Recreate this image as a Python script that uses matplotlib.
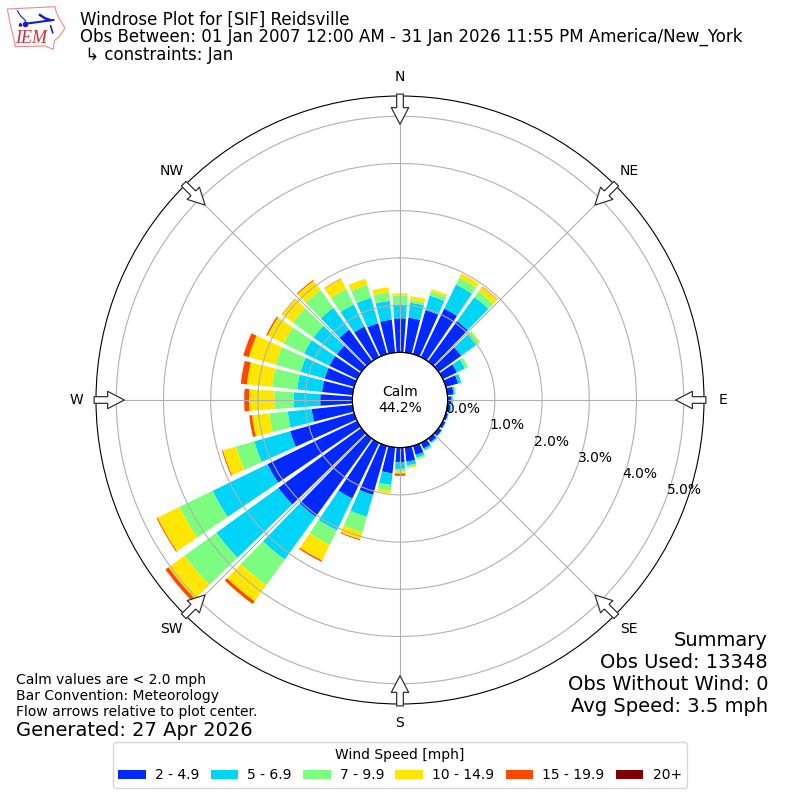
import numpy as np
import matplotlib
matplotlib.use("Agg")
import matplotlib.pyplot as plt
from matplotlib.patches import Polygon

directions = list(range(0, 360, 10))
speed_labels = ["2 - 4.9", "5 - 6.9", "7 - 9.9", "10 - 14.9", "15 - 19.9", "20+"]
colors = ["#0028ff", "#00d5f7", "#7cfd7f", "#ffe600", "#ff4700", "#7f0000"]

s_2_5 = [.72,.74,.97,1.14,1.05,.59,.33,.27,.13,.08,.07,.05,.06,.08,.09,.13,.20,.30,
         .31,.55,1.08,1.31,2.04,2.17,2.11,1.41,.87,.68,.65,.65,.65,.64,.83,.72,.68,.70]
s_5_7 = [.29,.32,.32,.57,.63,.39,.19,.07,.03,.03,.02,.01,.01,.01,.03,.04,.06,.08,
         .14,.25,.48,.75,1.12,1.62,1.29,.79,.51,.56,.53,.53,.60,.61,.57,.52,.56,.40]
s_7_10 = [.19,.06,.09,.16,.15,.09,.07,.01,.02,.01,.01,.01,.01,.01,.01,.02,.04,.04,
          .05,.12,.34,.34,.67,.83,.78,.40,.39,.41,.53,.55,.48,.54,.46,.36,.28,.18]
s_10_15 = [.05,.08,.05,.10,.12,.02,0,0,.01,0,0,0,0,0,0,.01,.01,.02,
           .05,.06,.16,.37,.42,.42,.52,.29,.37,.54,.54,.59,.38,.28,.25,.24,.14,.11]
s_15_20 = [0,0,0,0,.01,0,0,0,0,0,0,0,0,0,0,0,0,0,
           .03,0,.02,.03,.07,.08,.02,.02,.06,.10,.13,.12,.03,.01,.02,.01,0,0]
s_20 = [0,0,0,0,0,0,0,0,0,0,0,0,0,0,0,0,0,0,
        .01,0,0,0,0,0,0,0,0,0,0,0,0,0,0,0,0,0]
series = [s_2_5, s_5_7, s_7_10, s_10_15, s_15_20, s_20]

rticks = [0, 1, 2, 3, 4, 5]
compass_deg = [0, 45, 90, 135, 180, 225, 270, 315]
compass_lab = ["N", "NE", "E", "SE", "S", "SW", "W", "NW"]

fig = plt.figure(figsize=(8, 8), dpi=100)
ax = fig.add_axes([96/800, 96/800, 608/800, 608/800], projection="polar")
ax.set_theta_zero_location("N")
ax.set_theta_direction(-1)

theta = np.deg2rad(directions)
width = np.deg2rad(8.3)
bottom = np.zeros(len(directions))
for vals, col, lab in zip(series, colors, speed_labels):
    v = np.array(vals)
    ax.bar(theta, v, width=width, bottom=bottom, color=col, label=lab, linewidth=0)
    bottom += v

ax.set_rorigin(-1.01)
ax.set_rlim(0, 5.43)
ax.set_rticks(rticks)
ax.set_yticklabels([f"{r:.1f}%" for r in rticks], fontsize=10)
ax.set_rlabel_position(110)
ax.set_xticks(np.deg2rad(compass_deg))
ax.set_xticklabels(compass_lab, fontsize=10)
ax.tick_params(axis="x", pad=3.5)
ax.grid(True, color="#b0b0b0", linewidth=0.8)

t = np.linspace(0, 2*np.pi, 361)
ax.plot(t, np.zeros_like(t), color="black", lw=0.8, clip_on=False, zorder=4)
ax.text(0, -1.01, "Calm\n44.2%", ha="center", va="center", fontsize=10)

for d in compass_deg:
    ax.annotate("", xy=(np.deg2rad(d), 4.83), xytext=(np.deg2rad(d), 5.47),
                annotation_clip=False, zorder=6,
                arrowprops=dict(arrowstyle="simple,head_length=12,head_width=12.5,tail_width=4.8",
                                mutation_scale=1, fc="white", ec="#333333", lw=0.9,
                                shrinkA=0, shrinkB=0))

# title block
fig.text(80/800, 1-20/800, "Windrose Plot for [SIF] Reidsville", fontsize=12, va="center")
fig.text(80/800, 1-37/800, "Obs Between: 01 Jan 2007 12:00 AM - 31 Jan 2026 11:55 PM America/New_York",
         fontsize=12, va="center")
fig.text(80/800, 1-55/800, " ↳ constraints: Jan", fontsize=12, va="center")

# left notes
fig.text(16/800, 1-680/800, "Calm values are < 2.0 mph", fontsize=10, va="center")
fig.text(16/800, 1-696/800, "Bar Convention: Meteorology", fontsize=10, va="center")
fig.text(16/800, 1-712/800, "Flow arrows relative to plot center.", fontsize=10, va="center")
fig.text(16/800, 1-730/800, "Generated: 27 Apr 2026", fontsize=14, va="center")

# summary
for y, s in zip([640, 662, 684, 706],
                ["Summary", "Obs Used: 13348", "Obs Without Wind: 0", "Avg Speed: 3.5 mph"]):
    fig.text(768/800, 1-y/800, s, fontsize=14, ha="right", va="center")

handles, labels = ax.get_legend_handles_labels()
fig.legend(handles, labels, title="Wind Speed [mph]", ncol=6, loc="center",
           bbox_to_anchor=(400/800, 1-765/800), fontsize=10, title_fontsize=10,
           columnspacing=0.8, handletextpad=0.65)

# logo (coordinates in a 3x logo space)
lg = fig.add_axes([0, 1-70/800, 240/800, 70/800])
lg.set_xlim(0, 720); lg.set_ylim(210, 0); lg.axis("off")
iowa = [(22,27),(165,20),(170,40),(178,55),(195,85),(180,108),(163,122),(160,148),(135,138),
        (46,140),(40,110),(30,70)]
lg.add_patch(Polygon(iowa, closed=True, fc="white", ec="#e88a8a", lw=0.8))
lg.plot([78,160],[71,60], color="#1a1ad0", lw=1.5)
lg.plot([120,135,150],[45,55,60], color="#1a1ad0", lw=1.8)
lg.plot([52,62,75,78],[32,48,60,71], color="#1a1ad0", lw=0.8)
lg.plot([152,155,158],[78,88,98], color="#1a1ad0", lw=1.2)
lg.plot([75],[71], "o", color="#1a1ad0", ms=3)
lg.plot([60],[72], "^", color="#1a1ad0", ms=2)
lg.text(92, 116, "IEM", family="Liberation Serif", style="italic", color="#d32f2f",
        fontsize=13, ha="center", va="center")

fig.savefig("out.png", dpi=100)
